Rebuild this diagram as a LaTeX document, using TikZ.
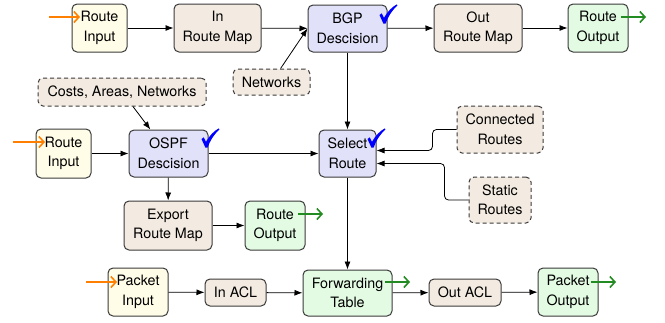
\documentclass[tikz,border=0pt]{standalone}
\usepackage{fontspec}
\setmainfont{TeX Gyre Heros}
\usetikzlibrary{arrows.meta,calc}

\definecolor{inputfill}{HTML}{FFFDE8}
\definecolor{mapfill}{HTML}{F3EBE1}
\definecolor{decfill}{HTML}{E1E1FA}
\definecolor{outfill}{HTML}{E3FBE3}
\definecolor{edge}{HTML}{3A3A3A}
\definecolor{inarrow}{HTML}{FF8000}
\definecolor{outarrow}{HTML}{228B22}

\tikzset{
  box/.style={draw=edge, line width=1pt, rounded corners=5pt, align=center,
    inner sep=0pt, font=\fontsize{14.3}{19.5}\selectfont},
  inbox/.style={box, fill=inputfill},
  mapbox/.style={box, fill=mapfill},
  decbox/.style={box, fill=decfill},
  outbox/.style={box, fill=outfill},
  extbox/.style={box, fill=mapfill, dashed, dash pattern=on 4pt off 3pt},
  arr/.style={-{Latex[length=8pt,width=6pt]}, line width=0.8pt, black},
  inpin/.style={-{Straight Barb[length=5pt,width=11pt]}, line width=1.6pt, inarrow},
  outpin/.style={-{Straight Barb[length=5pt,width=11pt]}, line width=1.6pt, outarrow},
  % calligraphic tick, origin at its lower vertex
  donemark/.pic={
    \fill[blue] (-4.5,-8) -- (-2.3,-9.6) .. controls (-1.4,-7.6) .. (0,-5.2)
      .. controls (4,-12) and (8,-16) .. (12.8,-18.6) -- (13.4,-17.6)
      .. controls (8,-12.5) and (4,-6.5) .. (1.6,0.6) -- (-0.6,0.6)
      .. controls (-2,-4) .. cycle;
  },
}

\begin{document}
\begin{tikzpicture}[x=1pt, y=-1pt]
\useasboundingbox (0,0) rectangle (665,322);

% BGP path
\node[inbox,  minimum width=55pt, minimum height=48pt] (bin)  at (99.5,28) {Route\\Input};
\node[mapbox, minimum width=87pt, minimum height=48pt] (bmap) at (217.5,28) {In\\Route Map};
\node[decbox, minimum width=79pt, minimum height=47pt] (bgp)  at (347.5,28.5) {BGP\\Descision};
\node[mapbox, minimum width=88pt, minimum height=48pt] (omap) at (478,28) {Out\\Route Map};
\node[outbox, minimum width=60pt, minimum height=48pt] (bout) at (598,28) {Route\\Output};
\node[extbox, minimum width=77pt, minimum height=26pt] (net)  at (271.5,82) {Networks};

% OSPF path
\node[extbox, minimum width=168pt, minimum height=28pt] (cost) at (122,92) {Costs, Areas, Networks};
\node[inbox,  minimum width=55pt, minimum height=49pt] (oin)  at (63.5,153.5) {Route\\Input};
\node[decbox, minimum width=79pt, minimum height=47pt] (ospf) at (168.5,153.5) {OSPF\\Descision};
\node[mapbox, minimum width=88pt, minimum height=49pt] (emap) at (168,225.5) {Export\\Route Map};
\node[outbox, minimum width=60pt, minimum height=49pt] (oout) at (275,225.5) {Route\\Output};

% route selection
\node[decbox, minimum width=57pt, minimum height=47pt] (sel)  at (347.5,153.5) {Select\\Route};
\node[extbox, minimum width=86pt, minimum height=47pt] (con)  at (500,129.5) {Connected\\Routes};
\node[extbox, minimum width=62pt, minimum height=46pt] (sta)  at (500,200) {Static\\Routes};

% packet path
\node[inbox,  minimum width=60pt, minimum height=48pt] (pin)  at (138,292) {Packet\\Input};
\node[mapbox, minimum width=61pt, minimum height=27pt] (iacl) at (235.5,292.5) {In ACL};
\node[outbox, minimum width=89pt, minimum height=46pt] (fwd)  at (347.5,293) {Forwarding\\Table};
\node[mapbox, minimum width=72pt, minimum height=27pt] (oacl) at (465,292.5) {Out ACL};
\node[outbox, minimum width=60pt, minimum height=48pt] (pout) at (568,292) {Packet\\Output};

% decision marks
\pic at (384,23) {donemark};
\pic at (206,147) {donemark};
\pic at (372,147) {donemark};

% flow
\draw[arr] (bin) -- (bmap);
\draw[arr] (bmap) -- (bgp);
\draw[arr] (net) -- (bgp.west);
\draw[arr] (bgp) -- (omap);
\draw[arr] (omap) -- (bout);
\draw[arr] (bgp) -- (sel);

\draw[arr] (cost) -- (ospf);
\draw[arr] (oin) -- (ospf);
\draw[arr] (ospf) -- (sel);
\draw[arr] (ospf) -- (emap);
\draw[arr] (emap) -- (oout);

\draw[arr, rounded corners=4pt] (con.west) -- ++(-24,0) |- ($(sel.east)+(0,-3)$);
\draw[arr, rounded corners=4pt] (sta.west) -- ++(-24,0) |- ($(sel.east)+(0,10)$);
\draw[arr] (sel) -- (fwd);

\draw[arr] (pin) -- (iacl);
\draw[arr] (iacl) -- (fwd);
\draw[arr] (fwd) -- (oacl);
\draw[arr] (oacl) -- (pout);

% entry and exit pins
\coordinate (binA) at (49,17);   \coordinate (binB) at (80,17);
\coordinate (oinA) at (13,142);  \coordinate (oinB) at (45,142);
\coordinate (pinA) at (86,282);  \coordinate (pinB) at (117,282);
\draw[inpin] (binA) -- (binB);
\draw[inpin] (oinA) -- (oinB);
\draw[inpin] (pinA) -- (pinB);

\coordinate (boutA) at (621,17);  \coordinate (boutB) at (646,17);
\coordinate (ooutA) at (298,214); \coordinate (ooutB) at (323,214);
\coordinate (fwdA)  at (385,282); \coordinate (fwdB)  at (410,282);
\coordinate (poutA) at (591,282); \coordinate (poutB) at (616,282);
\draw[outpin] (boutA) -- (boutB);
\draw[outpin] (ooutA) -- (ooutB);
\draw[outpin] (fwdA) -- (fwdB);
\draw[outpin] (poutA) -- (poutB);
\end{tikzpicture}
\end{document}
